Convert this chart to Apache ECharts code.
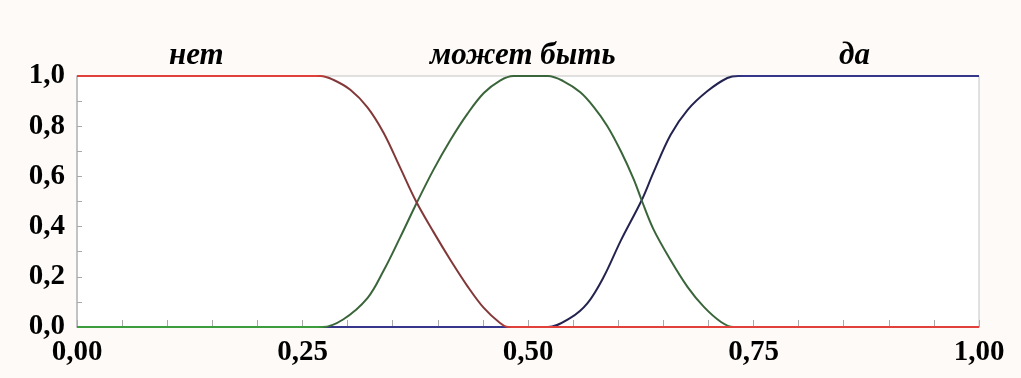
<!DOCTYPE html>
<html>
<head>
<meta charset="utf-8">
<script src="https://cdn.jsdelivr.net/npm/echarts@6/dist/echarts.min.js"></script>
<style>
  html, body { margin: 0; padding: 0; background: #fdfaf7; }
  #chart { width: 1021px; height: 378px; }
</style>
</head>
<body>
<div id="chart"></div>
<script>
// ---- data ----
const seriesNames = ['нет', 'может быть', 'да'];

const netX = [0, 0.270, 0.284, 0.303, 0.322, 0.340, 0.358, 0.376, 0.395, 0.414, 0.433, 0.451, 0.469, 0.478, 1];
const netY = [1, 1, 0.985, 0.945, 0.875, 0.773, 0.637, 0.500, 0.380, 0.267, 0.162, 0.076, 0.016, 0, 0];

const mayX = [0, 0.272, 0.295, 0.322, 0.340, 0.358, 0.376, 0.395, 0.414, 0.433, 0.451, 0.469, 0.484,
              0.522, 0.539, 0.558, 0.573, 0.588, 0.603, 0.617, 0.626, 0.639, 0.658, 0.677, 0.695, 0.714, 0.728, 1];
const mayY = [0, 0, 0.030, 0.115, 0.225, 0.355, 0.490, 0.625, 0.745, 0.850, 0.932, 0.982, 1,
              1, 0.980, 0.935, 0.876, 0.800, 0.700, 0.590, 0.505, 0.390, 0.267, 0.159, 0.080, 0.020, 0, 0];

const daX = [0, 0.522, 0.547, 0.566, 0.584, 0.603, 0.626, 0.639, 0.658, 0.677, 0.699, 0.721, 0.733, 1];
const daY = [0, 0, 0.036, 0.095, 0.200, 0.345, 0.505, 0.615, 0.765, 0.865, 0.940, 0.992, 1, 1];

const xTickValues = [0, 0.25, 0.5, 0.75, 1];
const xTickLabels = ['0,00', '0,25', '0,50', '0,75', '1,00'];
const yTickValues = [0, 0.2, 0.4, 0.6, 0.8, 1];
const yTickLabels = ['0,0', '0,2', '0,4', '0,6', '0,8', '1,0'];

// ---- helpers ----
function pairs(xs, ys) { return xs.map((x, i) => [x, ys[i]]); }
function tickLabel(values, labels) {
  return function (v) {
    for (let i = 0; i < values.length; i++) if (Math.abs(values[i] - v) < 1e-6) return labels[i];
    return '';
  };
}
function grad(bright, dark, a, b) {
  return new echarts.graphic.LinearGradient(0, 0, 1, 0, [
    { offset: 0, color: bright },
    { offset: a - 0.004, color: bright },
    { offset: a + 0.012, color: dark },
    { offset: b - 0.012, color: dark },
    { offset: b + 0.004, color: bright },
    { offset: 1, color: bright }
  ]);
}

const labelFont = { fontFamily: '"Liberation Serif", "DejaVu Serif", serif', fontWeight: 'bold', fontSize: 29, color: '#000' };
const nameFont = 'italic bold 31px "Liberation Serif"';

const chart = echarts.init(document.getElementById('chart'), null, { renderer: 'canvas' });
chart.setOption({
  backgroundColor: '#fdfaf7',
  animation: false,
  grid: {
    left: 77, right: 42, top: 76, bottom: 51,
    show: true, backgroundColor: '#ffffff', borderColor: '#c4c4c4', borderWidth: 1
  },
  xAxis: {
    type: 'value', min: 0, max: 1, interval: 0.25, offset: 4,
    axisLine: { show: true, lineStyle: { color: '#b8b8b8', width: 1.5 } },
    axisTick: { show: true, inside: true, length: 7, lineStyle: { color: '#a8a8a8' } },
    minorTick: { show: true, splitNumber: 5, length: 7, lineStyle: { color: '#a8a8a8' } },
    splitLine: { show: false },
    axisLabel: Object.assign({ margin: 7, formatter: tickLabel(xTickValues, xTickLabels) }, labelFont)
  },
  yAxis: {
    type: 'value', min: 0, max: 1, interval: 0.2,
    axisLine: { show: true, lineStyle: { color: '#b8b8b8', width: 1.5 } },
    axisTick: { show: true, inside: true, length: 5, lineStyle: { color: '#a8a8a8' } },
    minorTick: { show: true, splitNumber: 2, length: 5, lineStyle: { color: '#a8a8a8' } },
    splitLine: { show: false },
    axisLabel: Object.assign({ margin: 12, formatter: tickLabel(yTickValues, yTickLabels) }, labelFont)
  },
  graphic: [
    { type: 'text', left: 169, top: 40, style: { text: seriesNames[0], font: nameFont, fill: '#000' } },
    { type: 'text', left: 430, top: 40, style: { text: seriesNames[1], font: nameFont, fill: '#000' } },
    { type: 'text', left: 839, top: 40, style: { text: seriesNames[2], font: nameFont, fill: '#000' } }
  ],
  series: [
    {
      name: seriesNames[2], type: 'line', data: pairs(daX, daY), showSymbol: false, smooth: 0.35,
      lineStyle: { width: 2, color: grad('#36368a', '#232350', 0.522, 0.733) }, z: 2
    },
    {
      name: seriesNames[1], type: 'line', data: pairs(mayX, mayY), showSymbol: false, smooth: 0.35,
      lineStyle: { width: 2, color: grad('#3c9e3c', '#3a653a', 0.272, 0.728) }, z: 3
    },
    {
      name: seriesNames[0], type: 'line', data: pairs(netX, netY), showSymbol: false, smooth: 0.35,
      lineStyle: { width: 2, color: grad('#e2403a', '#823838', 0.270, 0.478) }, z: 4
    }
  ]
});
</script>
</body>
</html>
